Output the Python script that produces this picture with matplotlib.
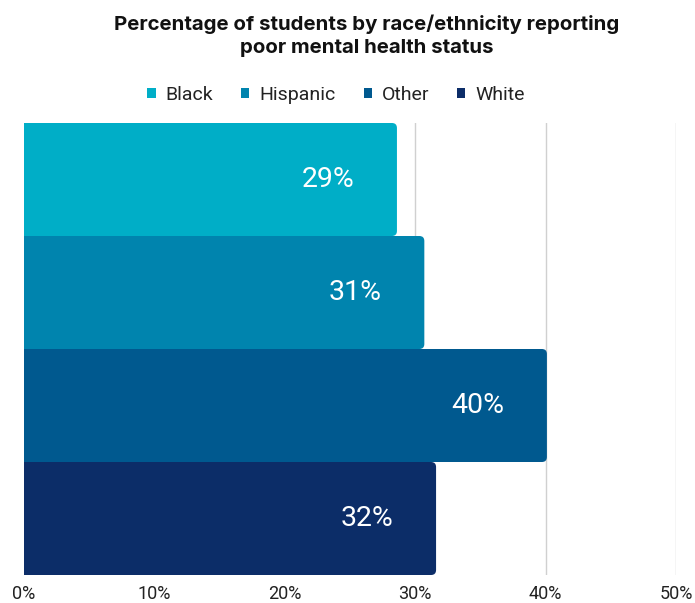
import matplotlib
matplotlib.use("Agg")
import matplotlib.pyplot as plt
from matplotlib.patches import FancyBboxPatch
from matplotlib.ticker import FuncFormatter

categories = ["Black", "Hispanic", "Other", "White"]
values = [28.6, 30.7, 40.1, 31.6]
colors = ["#00AEC7", "#0084AE", "#00598F", "#0C2D68"]
xticks = [0, 10, 20, 30, 40, 50]

plt.rcParams['font.family'] = ['Roboto', 'DejaVu Sans']

fig = plt.figure(figsize=(6.95, 6.03), dpi=100)
ax = fig.add_axes([24/695, 1-575/603, (676-24)/695, (575-123)/603])

ax.set_xlim(0, 50)
ax.set_ylim(3.5, -0.5)

ax.set_xticks(xticks)
ax.xaxis.set_major_formatter(FuncFormatter(lambda v, p: f"{v:.0f}%"))
ax.grid(axis='x', color='#D0D0D0', linewidth=1)
ax.set_axisbelow(True)
ax.set_yticks([])
for s in ax.spines.values():
    s.set_visible(False)
ax.tick_params(axis='x', length=0, labelsize=13, colors='#222222', pad=7)

# pixel scale for rounding aspect
px_per_x = (676-24)/50.0
px_per_y = (575-123)/4.0
aspect = px_per_x/px_per_y
r = 5/px_per_x

for i, (cat, v, c) in enumerate(zip(categories, values, colors)):
    patch = FancyBboxPatch((-2, i-0.5), v+2, 1.0,
                           boxstyle=f"round,pad=0,rounding_size={r}",
                           mutation_aspect=aspect,
                           facecolor=c, edgecolor='none', label=cat, zorder=2)
    ax.add_patch(patch)
    ax.text(v-5.3, i, f"{v:.0f}%", ha='center', va='center', color='white',
            fontsize=20.5, zorder=3)

fig.text(367/695, 1-36/603, "Percentage of students by race/ethnicity reporting\npoor mental health status",
         ha='center', va='center', fontsize=14.7, fontweight='bold', color='#111111',
         linespacing=1.38, family=['Inter', 'DejaVu Sans'])

handles = [plt.Rectangle((0, 0), 1, 1, facecolor=c, edgecolor='none') for c in colors]
fig.legend(handles, categories, loc='center', bbox_to_anchor=(336/695, 1-95/603), ncol=4,
           frameon=False, fontsize=14, handlelength=0.42, handleheight=0.42,
           handletextpad=0.5, columnspacing=1.45, labelcolor='#222222')

fig.savefig("out.png", dpi=100)
